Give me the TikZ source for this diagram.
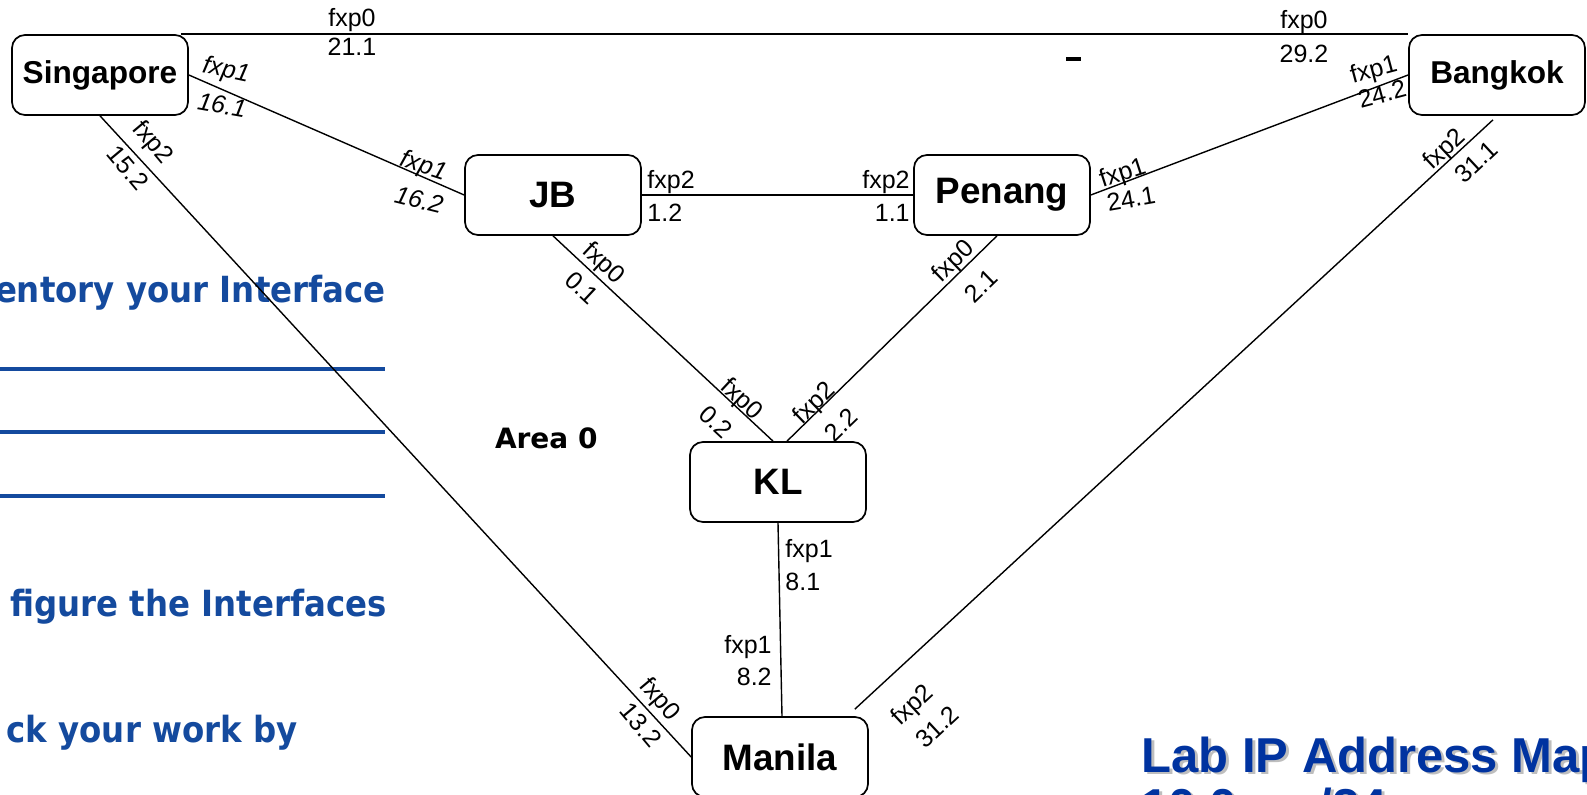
\documentclass[tikz,border=0pt]{standalone}
\usepackage{fontspec}
\setmainfont{Liberation Sans}
\newfontfamily\dejavu{DejaVu Sans}
\newfontfamily\dejavucond{DejaVu Sans}[FakeStretch=0.9]
\definecolor{slideblue}{RGB}{20,74,158}
\definecolor{titleblue}{RGB}{0,51,160}
\definecolor{shadowgray}{RGB}{190,190,190}
\tikzset{
  router/.style={draw, line width=0.85pt, rounded corners=6.5pt, minimum width=88pt, minimum height=40pt, inner sep=0pt, font=\bfseries\fontsize{18.4}{22}\selectfont},
  smallrouter/.style={router, font=\bfseries\fontsize{15.8}{19}\selectfont},
  link/.style={line width=0.7pt},
  thicklink/.style={line width=1pt},
  lbl/.style={inner sep=0pt, font=\fontsize{12.5}{15}\selectfont},
  ilbl/.style={inner sep=0pt, font=\itshape\fontsize{12.5}{15}\selectfont},
  bluetext/.style={inner sep=0pt, anchor=base east, text=slideblue, font=\dejavucond\bfseries\fontsize{18}{22}\selectfont},
  blueline/.style={draw=slideblue, line width=1.9pt},
  titletext/.style={inner sep=0pt, anchor=base west, font=\bfseries\fontsize{24.5}{29}\selectfont}
}
\begin{document}
\begin{tikzpicture}[x=0.5pt,y=-0.5pt]
\useasboundingbox (0,0) rectangle (1587,795);
\clip (0,0) rectangle (1587,795);
\fill[white] (0,0) rectangle (1587,795);

% slide background text
\node[bluetext] (t1) at (386,303) {entory your Interface};
\draw[blueline] (0,369) -- (385,369);
\draw[blueline] (0,432) -- (385,432);
\draw[blueline] (0,496) -- (385,496);
\node[bluetext] (t2) at (387,617) {figure the Interfaces};
\node[bluetext] (t3) at (298,743) {ck your work by};

\node[titletext, text=shadowgray] (ts1) at (1144,775) {Lab IP Address Map};
\node[titletext, text=titleblue] (tt1) at (1141,773) {Lab IP Address Map};
\node[titletext, text=shadowgray] (ts2) at (1144,826) {10.0.x.x/24};
\node[titletext, text=titleblue] (tt2) at (1141,824) {10.0.x.x/24};

% routers
\node[smallrouter] (sg) at (100,75) {Singapore};
\node[smallrouter] (bk) at (1497,75) {Bangkok};
\node[router] (jb) at (553,195) {JB};
\node[router] (pn) at (1002,195) {Penang};
\node[router] (kl) at (778,482) {KL};
\node[router] (mn) at (780,757) {Manila};

% links
\draw[thicklink] ([xshift=-4pt]sg.north east) -- (bk.north west);
\draw[link] (sg.east) -- (jb.west);
\draw[link] (sg.south) -- (mn.west);
\draw[link] (jb.south) -- ([xshift=-2.5pt]kl.north);
\draw[link] ([xshift=-2.5pt]pn.south) -- ([xshift=4.5pt]kl.north);
\draw[thicklink] (jb.east) -- (pn.west);
\draw[link] (pn.east) -- (bk.west);
\draw[link] ([xshift=-2pt,yshift=-2pt]bk.south) -- ([xshift=-7pt,yshift=3.5pt]mn.north east);
\draw[link] (kl.south) -- ([xshift=1pt]mn.north);

% small dash
\fill (1066,57) rectangle (1081,61);

% top link labels
\node[lbl] (a1) at (352,20) {fxp0};
\node[lbl] (a2) at (352,47) {21.1};
\node[lbl] (a3) at (1304,22) {fxp0};
\node[lbl] (a4) at (1304,54) {29.2};

% Singapore - JB
\node[ilbl, rotate=-12] (b1) at (226,71) {fxp1};
\node[ilbl, rotate=-10] (b2) at (222,105) {16.1};
\node[ilbl, rotate=-18] (b3) at (423,167) {fxp1};
\node[ilbl, rotate=-14] (b4) at (419,200) {16.2};

% Singapore - Manila
\node[lbl, rotate=-50] (c1) at (152,143) {fxp2};
\node[lbl, rotate=-50] (c2) at (128,168) {15.2};
\node[lbl, rotate=-50] (c3) at (659,700) {fxp0};
\node[lbl, rotate=-50] (c4) at (641,725) {13.2};

% JB - KL
\node[lbl, rotate=-43] (d1) at (603,264) {fxp0};
\node[lbl, rotate=-43] (d2) at (582,288) {0.1};
\node[lbl, rotate=-43] (d3) at (741,400) {fxp0};
\node[lbl, rotate=-43] (d4) at (716,422) {0.2};

% Penang - KL
\node[lbl, rotate=44] (e1) at (954,262) {fxp0};
\node[lbl, rotate=44] (e2) at (981,286) {2.1};
\node[lbl, rotate=44] (e3) at (815,404) {fxp2};
\node[lbl, rotate=44] (e4) at (841,425) {2.2};

% JB - Penang
\node[lbl, anchor=west] (f1) at (647,182) {fxp2};
\node[lbl, anchor=west] (f2) at (647,213) {1.2};
\node[lbl, anchor=east] (f3) at (910,182) {fxp2};
\node[lbl, anchor=east] (f4) at (910,213) {1.1};

% Penang - Bangkok
\node[lbl, rotate=18] (g1) at (1123,174) {fxp1};
\node[lbl, rotate=10] (g2) at (1131,199) {24.1};
\node[lbl, rotate=15] (g3) at (1374,71) {fxp1};
\node[lbl, rotate=15] (g4) at (1382,94) {24.2};

% Bangkok - Manila
\node[lbl, rotate=43] (h1) at (1445,150) {fxp2};
\node[lbl, rotate=43] (h2) at (1476,162) {31.1};
\node[lbl, rotate=43] (h3) at (913,706) {fxp2};
\node[lbl, rotate=43] (h4) at (937,727) {31.2};

% KL - Manila
\node[lbl, anchor=west] (k1) at (785,551) {fxp1};
\node[lbl, anchor=west] (k2) at (785,582) {8.1};
\node[lbl, anchor=east] (k3) at (772,647) {fxp1};
\node[lbl, anchor=east] (k4) at (772,677) {8.2};

% area
\node[inner sep=0pt, anchor=east, font=\dejavu\bfseries\fontsize{14}{17}\selectfont] (area) at (598,438) {Area 0};
\end{tikzpicture}
\end{document}
